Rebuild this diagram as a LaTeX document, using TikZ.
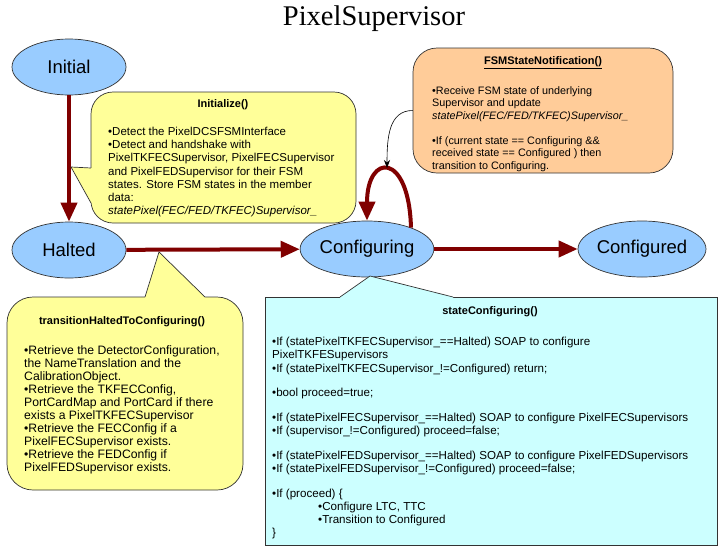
\documentclass[tikz,border=0pt]{standalone}
\usepackage{fontspec}
\setmainfont{Liberation Serif}
\setsansfont{Liberation Sans}
\usetikzlibrary{arrows.meta,shapes.geometric}
\definecolor{stateblue}{HTML}{99CCFF}
\definecolor{noteyellow}{HTML}{FFFF99}
\definecolor{notecyan}{HTML}{CCFFFF}
\definecolor{noteorange}{HTML}{FFCC99}
\definecolor{transred}{HTML}{800000}

\begin{document}
\begin{tikzpicture}[x=1pt, y=-1pt,
    state/.style={ellipse, draw=black!80, line width=0.7pt, fill=stateblue,
      minimum width=114pt, minimum height=56pt, inner sep=0pt,
      font=\sffamily\fontsize{18.5}{20}\selectfont},
    trans/.style={draw=transred, line width=4pt, -{Triangle[length=19pt,width=16pt]}},
    note/.style={draw=black!80, line width=0.7pt, inner sep=0pt},
    notetitle/.style={font=\sffamily\bfseries\fontsize{11}{13}\selectfont, inner sep=0pt},
    notebody/.style={font=\sffamily\fontsize{11.5}{13.2}\selectfont, align=left,
      inner sep=0pt, anchor=north west}]

  \useasboundingbox (0,0) rectangle (720,555);
  \fill[white] (0,0) rectangle (720,555);

  \node[font=\fontsize{28.5}{30}\selectfont] (title) at (374,19) {PixelSupervisor};

  % states
  \node[state] (initial) at (69,67) {Initial};
  \node[state] (halted) at (69,250) {Halted};
  \node[state] (configuring) at (367,249) {Configuring};
  \node[state] (configured) at (642,249) {Configured};

  % transitions
  \draw[trans] (initial) -- (halted);
  \draw[trans] (halted) -- (configuring);
  \draw[trans] (configuring) -- (configured);
  \draw[trans] (configuring.26) .. controls +(-2,-76) and +(0,-68) .. (configuring.north);
  \coordinate (looptop) at (387,168);

  % Initialize() callout
  \node[note, fill=noteyellow, rounded corners=22pt, minimum width=265pt,
    minimum height=131pt] (initnote) at (223.5,157.5) {};
  \fill[noteyellow] (71,167) -- (91,168) -- (92.5,168) -- (92.5,203) -- (91,203) -- cycle;
  \draw[black!80, line width=0.7pt] (91,168) -- (71,167) -- (91,203);
  \node[notetitle] (inittitle) at (223,105) {Initialize()};
  \node[notebody] (initbody) at (108,127) {%
    •Detect the PixelDCSFSMInterface\\
    •Detect and handshake with\\
    PixelTKFECSupervisor, PixelFECSupervisor\\
    and PixelFEDSupervisor for their FSM\\
    states. Store FSM states in the member\\
    data:\\
    \textit{statePixel(FEC/FED/TKFEC)Supervisor\_}};

  % FSMStateNotification() callout
  \node[note, fill=noteorange, rounded corners=24pt, minimum width=260pt,
    minimum height=125pt] (fsmnote) at (543,110.5) {};
  \node[notetitle] (fsmtitle) at (543,63) {\underline{FSMStateNotification()}};
  \node[notebody, font=\sffamily\fontsize{10.8}{12.5}\selectfont] (fsmbody) at (432,86) {%
    •Receive FSM state of underlying\\
    Supervisor and update\\
    \textit{statePixel(FEC/FED/TKFEC)Supervisor\_}\\[12.5pt]
    •If (current state == Configuring \&\&\\
    received state == Configured ) then\\
    transition to Configuring.};
  \draw[-{Stealth[length=8pt,width=6pt]}, line width=0.6pt]
    (fsmnote.west) .. controls +(-24,0) and +(0,-30) .. (looptop);

  % transitionHaltedToConfiguring() callout
  \node[note, fill=noteyellow, rounded corners=26pt, minimum width=236pt,
    minimum height=193pt] (haltnote) at (125,393.5) {};
  \fill[noteyellow] (159,252) -- (145,297) -- (145,298.5) -- (205,298.5) -- (205,297) -- cycle;
  \draw[black!80, line width=0.7pt] (145,297) -- (159,252) -- (205,297);
  \node[notetitle] (halttitle) at (122,322) {transitionHaltedToConfiguring()};
  \node[notebody, font=\sffamily\fontsize{12.2}{13}\selectfont] (haltbody) at (24,345) {%
    •Retrieve the DetectorConfiguration,\\
    the NameTranslation and the\\
    CalibrationObject.\\
    •Retrieve the TKFECConfig,\\
    PortCardMap and PortCard if there\\
    exists a PixelTKFECSupervisor\\
    •Retrieve the FECConfig if a\\
    PixelFECSupervisor exists.\\
    •Retrieve the FEDConfig if\\
    PixelFEDSupervisor exists.};

  % stateConfiguring() callout
  \node[note, fill=notecyan, minimum width=452pt, minimum height=248pt] (confnote) at (491,421) {};
  \fill[notecyan] (370,276) -- (340,297) -- (340,298.5) -- (453,298.5) -- (453,297) -- cycle;
  \draw[black!80, line width=0.7pt] (340,297) -- (370,276) -- (453,297);
  \node[notetitle] (conftitle) at (490,312) {stateConfiguring()};
  \node[notebody, font=\sffamily\fontsize{11.6}{13.2}\selectfont] (confbody) at (272,337) {%
    •If (statePixelTKFECSupervisor\_==Halted) SOAP to configure\\
    PixelTKFESupervisors\\
    •If (statePixelTKFECSupervisor\_!=Configured) return;\\[11.5pt]
    •bool proceed=true;\\[11.5pt]
    •If (statePixelFECSupervisor\_==Halted) SOAP to configure PixelFECSupervisors\\
    •If (supervisor\_!=Configured) proceed=false;\\[11.5pt]
    •If (statePixelFEDSupervisor\_==Halted) SOAP to configure PixelFEDSupervisors\\
    •If (statePixelFEDSupervisor\_!=Configured) proceed=false;\\[11.5pt]
    •If (proceed) \{\\
    \hspace*{46pt}•Configure LTC, TTC\\
    \hspace*{46pt}•Transition to Configured\\
    \}};
\end{tikzpicture}
\end{document}
